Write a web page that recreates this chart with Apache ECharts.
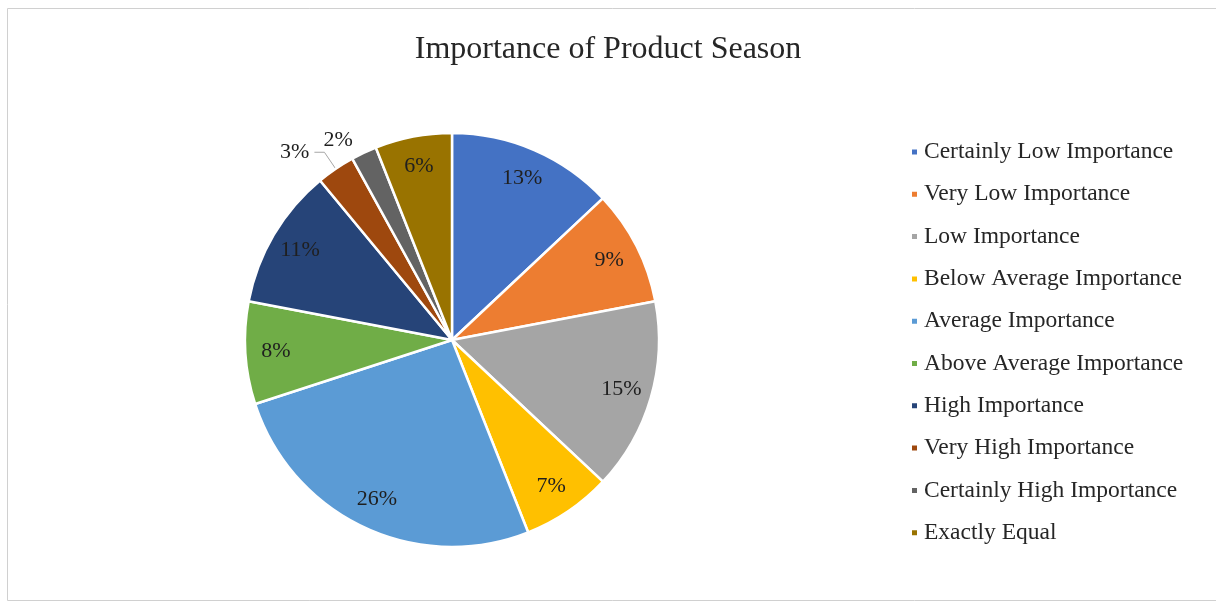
<!DOCTYPE html>
<html>
<head>
<meta charset="utf-8">
<script src="https://cdn.jsdelivr.net/npm/echarts@6/dist/echarts.min.js"></script>
<style>
html,body{margin:0;padding:0;background:#fff;}
#main{width:1216px;height:606px;}
</style>
</head>
<body>
<div id="main"></div>
<script>
const categories = [
  'Certainly Low Importance',
  'Very Low Importance',
  'Low Importance',
  'Below Average Importance',
  'Average Importance',
  'Above Average Importance',
  'High Importance',
  'Very High Importance',
  'Certainly High Importance',
  'Exactly Equal'
];
const values = [13, 9, 15, 7, 26, 8, 11, 3, 2, 6];
const colors = ['#4472C4','#ED7D31','#A5A5A5','#FFC000','#5B9BD5','#70AD47','#264478','#9E480E','#636363','#997300'];
const outsideLabelItems = ['Very High Importance', 'Certainly High Importance'];

const serif = '"Liberation Serif", "DejaVu Serif", serif';
const labelColor = '#1f1f1f';

const mainData = categories.map((c, i) => {
  const d = { name: c, value: values[i], itemStyle: { color: colors[i] } };
  if (c === 'Very High Importance') {
    d.label = { show: true };
    d.labelLine = { show: true, length: 20, length2: 10 };
  } else if (c === 'Certainly High Importance') {
    d.label = { show: true };
    d.labelLine = { show: false, length: 14, length2: 0 };
  }
  return d;
});
const labelData = categories.map((c, i) => ({
  name: c, value: values[i],
  label: { show: !outsideLabelItems.includes(c) }
}));

const chart = echarts.init(document.getElementById('main'), null, { renderer: 'canvas' });
chart.setOption({
  animation: false,
  backgroundColor: '#fff',
  color: colors,
  title: {
    text: 'Importance of Product Season',
    left: 'center',
    top: 29,
    textStyle: { fontFamily: serif, fontSize: 32, fontWeight: 'normal', color: '#262626' }
  },
  legend: {
    orient: 'vertical',
    left: 905,
    top: 135,
    icon: 'rect',
    itemWidth: 7,
    itemHeight: 7,
    itemGap: 18.3,
    data: categories,
    textStyle: { fontFamily: serif, fontSize: 23.5, color: '#262626', padding: [0, 0, 0, 1] }
  },
  graphic: [{
    type: 'rect',
    shape: { x: 7.5, y: 8.5, width: 1220, height: 592 },
    style: { fill: null, stroke: '#d0d0d0', lineWidth: 1 },
    silent: true
  }],
  series: [{
    type: 'pie',
    center: [452, 340],
    radius: [0, 207],
    startAngle: 90,
    clockwise: true,
    avoidLabelOverlap: false,
    data: mainData,
    itemStyle: { borderColor: '#fff', borderWidth: 2.5 },
    label: {
      show: false,
      position: 'outside',
      formatter: '{d}%',
      fontFamily: serif,
      fontSize: 22,
      color: labelColor
    },
    labelLine: { show: false, length: 8, length2: 10, lineStyle: { color: '#a6a6a6', width: 1 } },
    emphasis: { disabled: true }
  }, {
    type: 'pie',
    center: [452, 340],
    radius: [140, 207],
    startAngle: 90,
    clockwise: true,
    silent: true,
    data: labelData,
    itemStyle: { color: 'rgba(0,0,0,0)', borderWidth: 0 },
    label: {
      position: 'inside',
      formatter: '{d}%',
      fontFamily: serif,
      fontSize: 22,
      color: labelColor
    },
    labelLine: { show: false },
    emphasis: { disabled: true }
  }]
});
</script>
</body>
</html>
